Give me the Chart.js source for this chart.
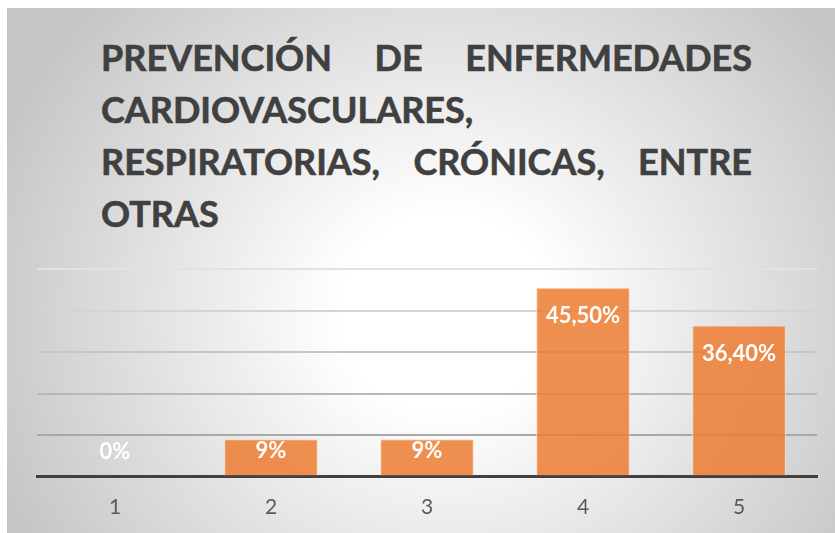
<!DOCTYPE html>
<html>
<head>
<meta charset="utf-8">
<script src="https://cdn.jsdelivr.net/npm/chart.js@4/dist/chart.umd.min.js"></script>
<style>
  html, body { margin: 0; padding: 0; background: #fff; }
  #wrap { position: relative; width: 835px; height: 533px; overflow: hidden; }
  #bg {
    position: absolute; left: 7px; top: 8px; right: 0; bottom: 0;
    background: radial-gradient(ellipse 58% 85% at 53% 58%, #ffffff 22%, #c6c6c6 100%);
  }
  #title {
    position: absolute; left: 101px; top: 31px; width: 651px;
    font-family: Lato, sans-serif; font-weight: bold; font-size: 36px;
    line-height: 52px; color: #404040;
    -webkit-text-stroke: 0.6px #404040;
  }
  #title .j { text-align: justify; text-align-last: justify; }
  #chart { position: absolute; left: 0; top: 0; }
</style>
</head>
<body>
<div id="wrap">
  <div id="bg"></div>
  <div id="title">
    <div class="j">PREVENCIÓN DE ENFERMEDADES</div>
    <div>CARDIOVASCULARES,</div>
    <div class="j">RESPIRATORIAS, CRÓNICAS, ENTRE</div>
    <div>OTRAS</div>
  </div>
  <canvas id="chart" width="835" height="533"></canvas>
</div>
<script>
const categories = ["1", "2", "3", "4", "5"];
const values = [0, 9, 9, 45.5, 36.4];
const valueLabels = ["0%", "9%", "9%", "45,50%", "36,40%"];
const gridColors = { 10: "#a8a8a8", 20: "#b8b8b8", 30: "#c6c6c6", 40: "#d4d4d4", 50: "#e2e2e2" };

// data labels drawn inside the top of each bar
const barLabels = {
  id: "barLabels",
  afterDatasetsDraw(chart) {
    const ctx = chart.ctx;
    const meta = chart.getDatasetMeta(0);
    ctx.save();
    ctx.font = "bold 22px Lato, sans-serif";
    ctx.fillStyle = "#ffffff";
    ctx.textAlign = "center";
    ctx.textBaseline = "middle";
    meta.data.forEach((bar, i) => {
      const y = Math.min(bar.y + 28, bar.base - 25);
      ctx.fillText(valueLabels[i], bar.x, y);
    });
    ctx.restore();
  }
};

new Chart(document.getElementById("chart"), {
  type: "bar",
  data: {
    labels: categories,
    datasets: [{
      data: values,
      backgroundColor: "rgba(237,125,49,0.85)",
      borderColor: "rgba(250,215,190,0.9)",
      borderWidth: 1,
      barPercentage: 0.6,
      categoryPercentage: 1
    }]
  },
  options: {
    responsive: false,
    animation: false,
    layout: { padding: { top: 269, left: 37, right: 18, bottom: 0 } },
    plugins: { legend: { display: false }, tooltip: { enabled: false }, title: { display: false } },
    scales: {
      x: {
        grid: { display: false, drawTicks: false },
        border: { display: true, color: "#404040", width: 3 },
        ticks: { color: "#595959", font: { family: "Lato", size: 21 }, padding: 18 },
        afterFit(s) { s.height = 56.5; }
      },
      y: {
        min: 0, max: 50,
        ticks: { display: false, stepSize: 10 },
        border: { display: false },
        grid: {
          drawTicks: false,
          lineWidth: 2,
          color: c => c.tick.value === 0 ? "rgba(0,0,0,0)" : gridColors[c.tick.value]
        },
        afterFit(s) { s.width = 0; }
      }
    }
  },
  plugins: [barLabels]
});
</script>
</body>
</html>
